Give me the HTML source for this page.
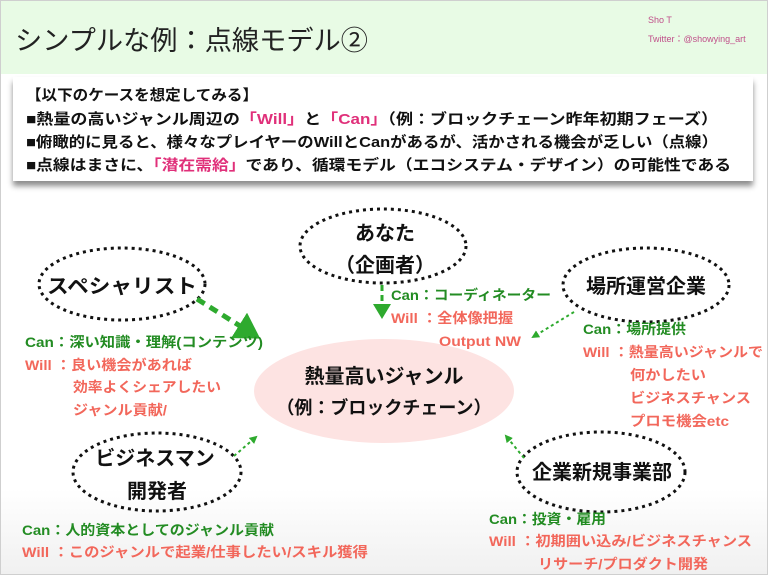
<!DOCTYPE html>
<html><head><meta charset="utf-8"><style>
html,body{margin:0;padding:0;background:#fff}
svg{display:block}
text{font-family:"Liberation Sans","Noto Sans CJK JP",sans-serif}
.b{font-weight:bold}
.g{fill:#238c23;font-weight:bold;font-size:14px}
.r{fill:#f2675b;font-weight:bold;font-size:14px}
</style></head><body>
<svg width="768" height="575" viewBox="0 0 768 575" xmlns="http://www.w3.org/2000/svg">
<defs>
<filter id="sh" x="-5%" y="-20%" width="110%" height="150%"><feDropShadow dx="0" dy="5" stdDeviation="3" flood-color="#000" flood-opacity="0.45"/></filter>
<marker id="ah" markerWidth="6" markerHeight="6" refX="4" refY="3" orient="auto" markerUnits="strokeWidth"><path d="M0,0 L5,3 L0,6 Z" fill="#2eaa2e"/></marker>
<marker id="ah2" markerWidth="4" markerHeight="4" refX="3" refY="2" orient="auto" markerUnits="strokeWidth"><path d="M0,0 L4,2 L0,4 Z" fill="#2eaa2e"/></marker>
<linearGradient id="bg" x1="0" y1="0" x2="0" y2="1"><stop offset="0.85" stop-color="#fff"/><stop offset="1" stop-color="#f0f0f0"/></linearGradient>
</defs>
<rect x="0" y="0" width="768" height="575" fill="url(#bg)"/>
<rect x="0" y="0" width="768" height="74" fill="#e8fbe5"/>
<rect x="0.5" y="0.5" width="767" height="574" fill="none" stroke="#cfcfcf"/>
<text x="15" y="50" font-size="27" fill="#222" textLength="353" lengthAdjust="spacingAndGlyphs">シンプルな例：点線モデル②</text>
<text x="648" y="23" font-size="9" fill="#c0508a">Sho T</text>
<text x="648" y="42" font-size="9" fill="#c0508a">Twitter：@showying_art</text>
<rect x="13" y="77" width="740" height="104" fill="#fff" filter="url(#sh)"/>
<g class="b" font-size="15" fill="#111">
<text x="26" y="100" textLength="232" lengthAdjust="spacingAndGlyphs">【以下のケースを想定してみる】</text>
<text x="26" y="124" textLength="692" lengthAdjust="spacingAndGlyphs">■熱量の高いジャンル周辺の<tspan fill="#e0307a">「Will」</tspan>と<tspan fill="#e0307a">「Can」</tspan>（例：ブロックチェーン昨年初期フェーズ）</text>
<text x="26" y="147" textLength="692" lengthAdjust="spacingAndGlyphs">■俯瞰的に見ると、様々なプレイヤーのWillとCanがあるが、活かされる機会が乏しい（点線）</text>
<text x="26" y="170" textLength="705" lengthAdjust="spacingAndGlyphs">■点線はまさに、<tspan fill="#e0307a">「潜在需給」</tspan>であり、循環モデル（エコシステム・デザイン）の可能性である</text>
</g>
<ellipse cx="384" cy="391" rx="130" ry="52" fill="#fde3e2"/>
<g fill="none" stroke="#111" stroke-width="3" stroke-dasharray="3 4">
<ellipse cx="383" cy="246" rx="83" ry="37"/>
<ellipse cx="122" cy="284" rx="83" ry="36"/>
<ellipse cx="646" cy="285" rx="83" ry="37"/>
<ellipse cx="157" cy="472" rx="84" ry="39"/>
<ellipse cx="601" cy="472" rx="84" ry="40"/>
</g>
<g class="b" fill="#111" font-size="20" text-anchor="middle">
<text x="385" y="240">あなた</text>
<text x="385" y="272">（企画者）</text>
<text x="122" y="293" textLength="150" lengthAdjust="spacingAndGlyphs">スペシャリスト</text>
<text x="646" y="293">場所運営企業</text>
<text x="155" y="465">ビジネスマン</text>
<text x="157" y="498">開発者</text>
<text x="602" y="479">企業新規事業部</text>
<text x="384" y="383">熱量高いジャンル</text>
<text x="384" y="414" font-size="18">（例：ブロックチェーン）</text>
</g>
<g stroke="#2eaa2e" fill="none">
<line x1="197" y1="299" x2="256" y2="336" stroke-width="5" stroke-dasharray="9 6" marker-end="url(#ah)"/>
<line x1="382" y1="285" x2="382" y2="316" stroke-width="3" stroke-dasharray="6 4" marker-end="url(#ah)"/>
<line x1="574" y1="312" x2="533" y2="337" stroke-width="2" stroke-dasharray="3 3" marker-end="url(#ah2)"/>
<line x1="234" y1="456" x2="256" y2="437" stroke-width="2" stroke-dasharray="3 3" marker-end="url(#ah2)"/>
<line x1="524" y1="458" x2="506" y2="436" stroke-width="2" stroke-dasharray="3 3" marker-end="url(#ah2)"/>
</g>
<text class="g" x="25" y="347" textLength="238" lengthAdjust="spacingAndGlyphs">Can：深い知識・理解(コンテンツ)</text>
<text class="r" x="25" y="370" textLength="167" lengthAdjust="spacingAndGlyphs">Will ：良い機会があれば</text>
<text class="r" x="73" y="392" textLength="148" lengthAdjust="spacingAndGlyphs">効率よくシェアしたい</text>
<text class="r" x="73" y="415" textLength="94" lengthAdjust="spacingAndGlyphs">ジャンル貢献/</text>
<text class="g" x="391" y="300" textLength="160" lengthAdjust="spacingAndGlyphs">Can：コーディネーター</text>
<text class="r" x="391" y="323" textLength="122" lengthAdjust="spacingAndGlyphs">Will ：全体像把握</text>
<text class="r" x="439" y="346" textLength="82" lengthAdjust="spacingAndGlyphs">Output NW</text>
<text class="g" x="583" y="334" textLength="103" lengthAdjust="spacingAndGlyphs">Can：場所提供</text>
<text class="r" x="583" y="357" textLength="180" lengthAdjust="spacingAndGlyphs">Will ：熱量高いジャンルで</text>
<text class="r" x="630" y="380" textLength="76" lengthAdjust="spacingAndGlyphs">何かしたい</text>
<text class="r" x="630" y="403" textLength="121" lengthAdjust="spacingAndGlyphs">ビジネスチャンス</text>
<text class="r" x="630" y="426" textLength="99" lengthAdjust="spacingAndGlyphs">プロモ機会etc</text>
<text class="g" x="22" y="535" textLength="252" lengthAdjust="spacingAndGlyphs">Can：人的資本としてのジャンル貢献</text>
<text class="r" x="22" y="557" textLength="346" lengthAdjust="spacingAndGlyphs">Will ：このジャンルで起業/仕事したい/スキル獲得</text>
<text class="g" x="489" y="524" textLength="117" lengthAdjust="spacingAndGlyphs">Can：投資・雇用</text>
<text class="r" x="489" y="546" textLength="263" lengthAdjust="spacingAndGlyphs">Will ：初期囲い込み/ビジネスチャンス</text>
<text class="r" x="538" y="569" textLength="170" lengthAdjust="spacingAndGlyphs">リサーチ/プロダクト開発</text>
</svg>
</body></html>
